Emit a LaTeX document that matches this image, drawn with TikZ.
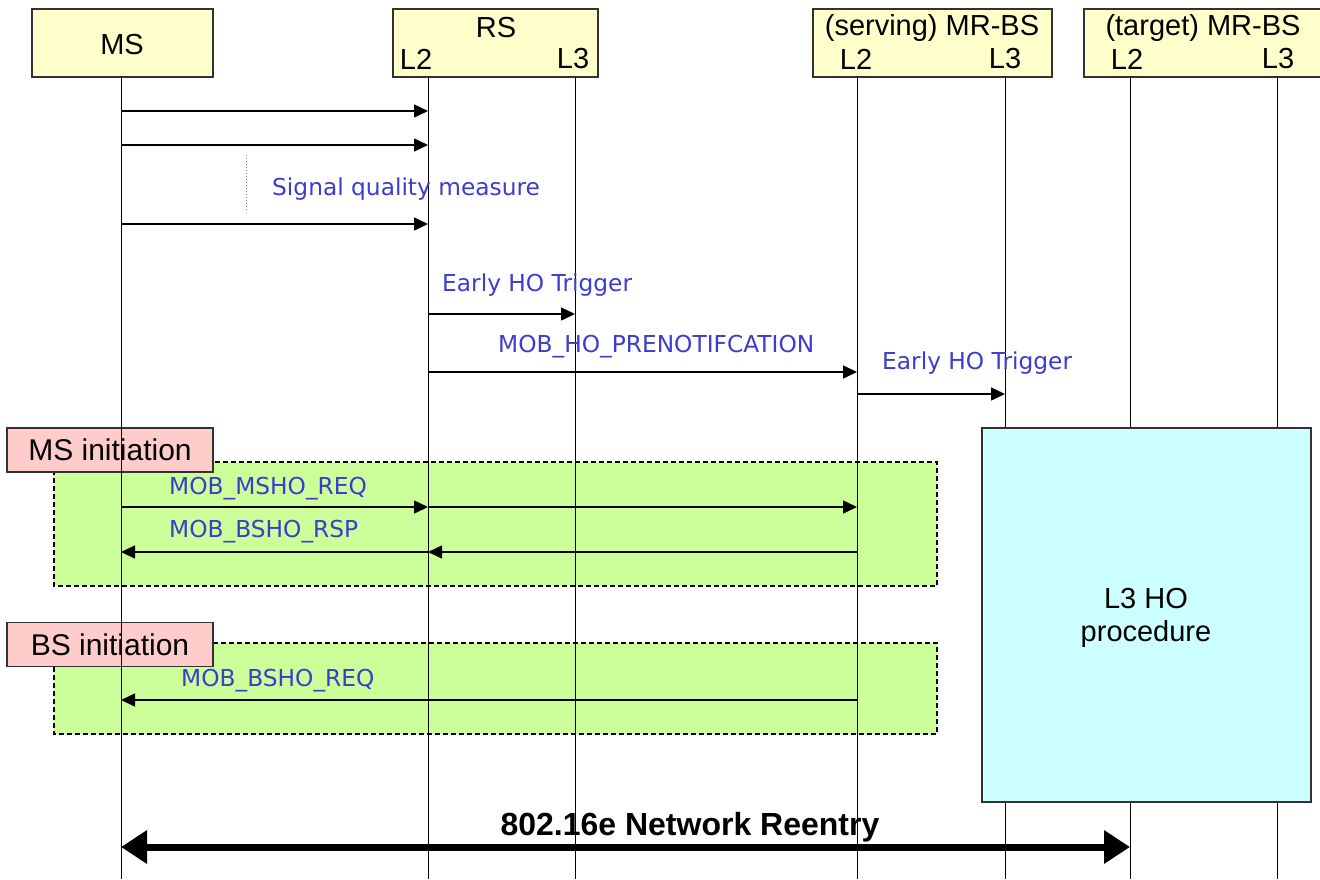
\documentclass[tikz,border=0pt]{standalone}
\usepackage{fontspec}
\setmainfont{Liberation Sans}
\newfontfamily\lblfont{DejaVu Sans}
\usetikzlibrary{arrows.meta}
\definecolor{hdrfill}{RGB}{255,255,204}
\definecolor{pinkfill}{RGB}{255,204,204}
\definecolor{greenfill}{RGB}{204,255,153}
\definecolor{cyanfill}{RGB}{204,255,255}
\definecolor{lblblue}{RGB}{60,60,205}
\definecolor{boxline}{RGB}{50,50,50}
\begin{document}
\begin{tikzpicture}[x=1pt,y=-1pt,
  hdr/.style={draw=boxline,line width=1.3pt,fill=hdrfill,inner sep=0pt},
  big/.style={font=\fontsize{29}{32}\selectfont,inner sep=0pt},
  lbl/.style={font=\lblfont\fontsize{23.3}{26}\selectfont,text=lblblue,inner sep=0pt,anchor=west},
  tag/.style={draw=boxline,line width=1.3pt,fill=pinkfill,inner sep=0pt,minimum width=206pt,minimum height=44pt,font=\fontsize{30}{32}\selectfont},
  grp/.style={draw=black,line width=1.5pt,dash pattern=on 5pt off 3pt,fill=greenfill},
  life/.style={line width=1pt,black},
  msg/.style={line width=1.5pt,-{Triangle[length=14pt,width=13pt]}},
  big arrow/.style={line width=7pt,{Triangle[length=26pt,width=32pt]}-{Triangle[length=26pt,width=32pt]}}
]
\useasboundingbox (0,0) rectangle (1320,879);
% group boxes
\draw[grp] (54,462) rectangle (937,586);
\draw[grp] (54,643) rectangle (937,734);
\node[tag] (mstag) at (110,450) {MS initiation};
\node[tag] (bstag) at (110,644.5) {BS initiation};
% header boxes
\node[hdr,minimum width=181pt,minimum height=68pt] (ms) at (122.5,43) {};
\node[big] at (122,45) {MS};
\node[hdr,minimum width=205pt,minimum height=68pt] (rs) at (495.5,43) {};
\node[big] at (496,28) {RS};
\node[big] at (416,59) {L2};
\node[big] at (573,59) {L3};
\node[hdr,minimum width=239pt,minimum height=68pt] (sbs) at (932.5,43) {};
\node[big] at (932,28) {(serving) MR-BS};
\node[big] at (856,59) {L2};
\node[big] at (1005,59) {L3};
\node[hdr,minimum width=240pt,minimum height=68pt] (tbs) at (1204,43) {};
\node[big] at (1203,28) {(target) MR-BS};
\node[big] at (1127,59) {L2};
\node[big] at (1278,59) {L3};
% lifeline tops and bottoms
\coordinate (msl) at (121,77);
\coordinate (rs2) at (428,77);
\coordinate (rs3) at (575,77);
\coordinate (sb2) at (857,77);
\coordinate (sb3) at (1005,77);
\coordinate (tb2) at (1130,77);
\coordinate (tb3) at (1277,77);
\coordinate (bot) at (0,879);
\foreach \c in {msl,rs2,rs3,sb2,sb3,tb2,tb3}{
  \draw[life] (\c) -- (\c |- bot);
}
% L3 HO procedure box
\node[draw=boxline,line width=1.3pt,fill=cyanfill,minimum width=329pt,minimum height=374pt,inner sep=0pt] (l3ho) at (1146.5,615) {};
\node[align=center,font=\fontsize{29}{33}\selectfont] at (1146,618) {L3 HO\\procedure};
% message rows
\coordinate (y1) at (0,111);
\coordinate (y2) at (0,145);
\coordinate (y3) at (0,224);
\coordinate (y4) at (0,314);
\coordinate (y5) at (0,372);
\coordinate (y6) at (0,394);
\coordinate (y7) at (0,507);
\coordinate (y8) at (0,552);
\coordinate (y9) at (0,700);
\coordinate (y10) at (0,847);
\draw[msg] (msl |- y1) -- (rs2 |- y1);
\draw[msg] (msl |- y2) -- (rs2 |- y2);
\coordinate (dt) at (246,155);
\coordinate (db) at (246,210);
\draw[gray,line width=1pt,dotted] (dt) -- (db);
\node[lbl] at (272,189) {Signal quality measure};
\draw[msg] (msl |- y3) -- (rs2 |- y3);
\node[lbl] at (442,285) {Early HO Trigger};
\draw[msg] (rs2 |- y4) -- (rs3 |- y4);
\node[lbl] at (498,347) {MOB\_HO\_PRENOTIFCATION};
\draw[msg] (rs2 |- y5) -- (sb2 |- y5);
\node[lbl] at (882,363) {Early HO Trigger};
\draw[msg] (sb2 |- y6) -- (sb3 |- y6);
\node[lbl] at (169,489) {MOB\_MSHO\_REQ};
\draw[msg] (msl |- y7) -- (rs2 |- y7);
\draw[msg] (rs2 |- y7) -- (sb2 |- y7);
\node[lbl] at (169,532) {MOB\_BSHO\_RSP};
\draw[msg] (sb2 |- y8) -- (rs2 |- y8);
\draw[msg] (rs2 |- y8) -- (msl |- y8);
\node[lbl] at (181,681) {MOB\_BSHO\_REQ};
\draw[msg] (sb2 |- y9) -- (msl |- y9);
\node[font=\bfseries\fontsize{32}{34}\selectfont,inner sep=0pt] at (690,827) {802.16e Network Reentry};
\draw[big arrow] (msl |- y10) -- (tb2 |- y10);
\end{tikzpicture}
\end{document}
